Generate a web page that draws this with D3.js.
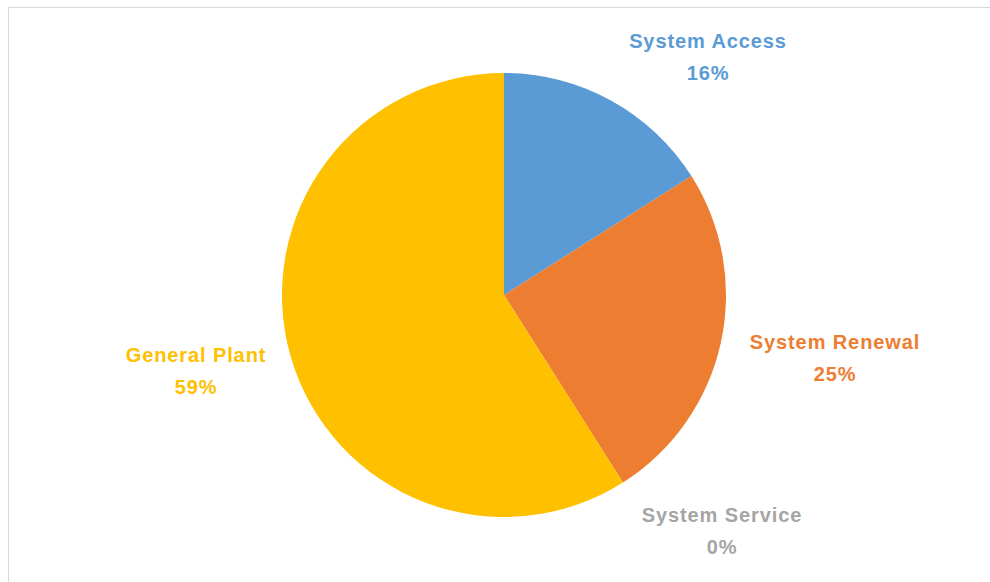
<!DOCTYPE html>
<html><head><meta charset="utf-8">
<script src="https://cdn.jsdelivr.net/npm/d3@7"></script>
<style>
html,body{margin:0;padding:0;background:#fff;}
svg{display:block;}
text{font-family:"Liberation Sans","DejaVu Sans",sans-serif;font-weight:bold;}
</style></head>
<body>
<svg id="chart" width="990" height="582"></svg>
<script>
const categories = ["System Access", "System Renewal", "System Service", "General Plant"];
const values = [16, 25, 0, 59];
const colors = ["#5B9BD5", "#ED7D31", "#A5A5A5", "#FFC000"];
const pctLabels = ["16%", "25%", "0%", "59%"];

const svg = d3.select("#chart");
// chart border
svg.append("rect").attr("x", 8.5).attr("y", 7.5).attr("width", 1000).attr("height", 600)
  .attr("fill", "#fff").attr("stroke", "#d9d9d9").attr("stroke-width", 1);

const cx = 504, cy = 295, R = 222;
const data = categories.map((c, i) => ({cat: c, v: values[i], color: colors[i], pct: pctLabels[i]}));
const pie = d3.pie().value(d => d.v).sort(null);
const arc = d3.arc().innerRadius(0).outerRadius(R);
const g = svg.append("g").attr("transform", `translate(${cx},${cy})`);
g.selectAll("path").data(pie(data)).join("path")
  .attr("d", arc).attr("fill", d => d.data.color);

const labelPos = [[708, 48], [835, 349], [722, 522], [196, 362]];
const lab = svg.append("g");
data.forEach((d, i) => {
  const t = lab.append("text").attr("x", labelPos[i][0]).attr("y", labelPos[i][1])
    .attr("text-anchor", "middle").attr("fill", d.color).attr("font-size", 20)
    .attr("letter-spacing", 0.9);
  t.append("tspan").attr("x", labelPos[i][0]).text(d.cat);
  t.append("tspan").attr("x", labelPos[i][0]).attr("dy", 32).text(d.pct);
});
</script>
</body></html>
